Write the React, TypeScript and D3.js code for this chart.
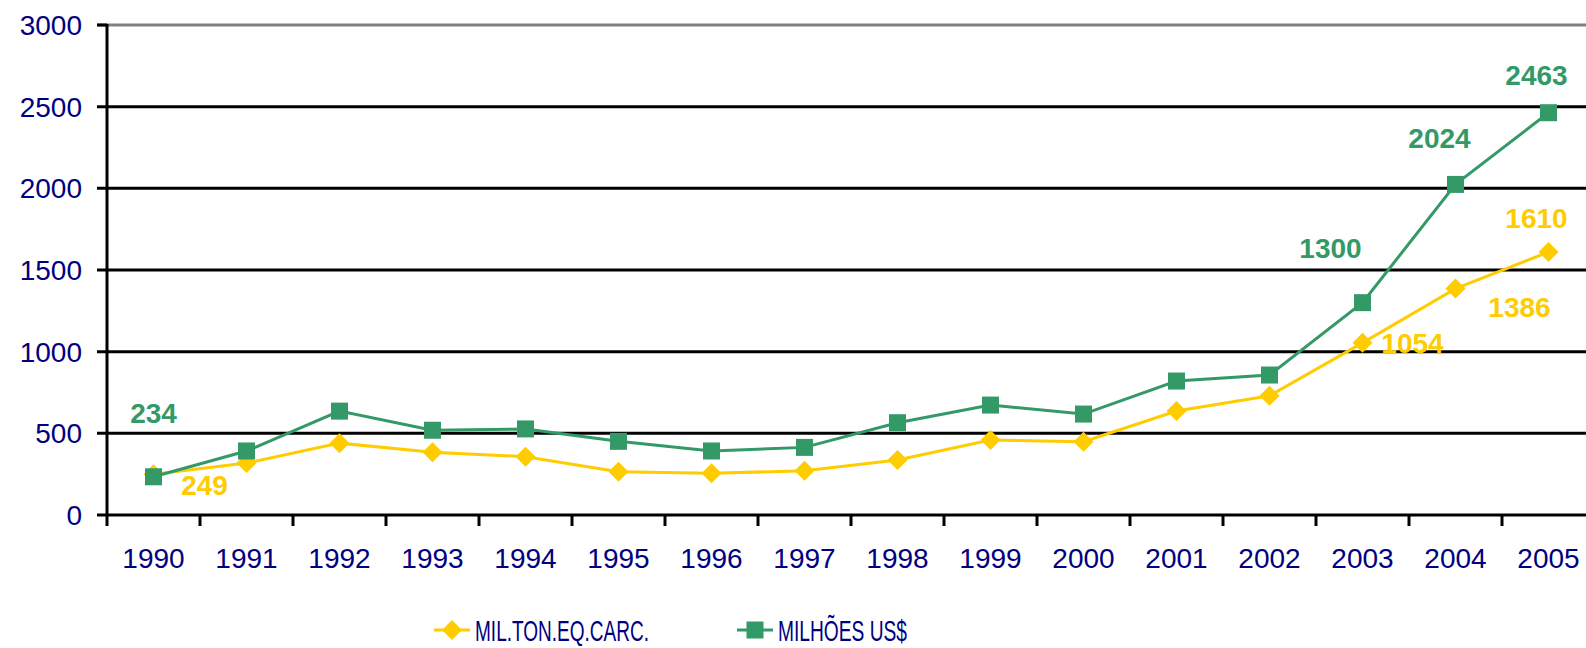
import React, { useEffect, useRef } from 'react';
import * as d3 from 'd3';

const years = ['1990', '1991', '1992', '1993', '1994', '1995', '1996', '1997', '1998', '1999', '2000', '2001', '2002', '2003', '2004', '2005'];
const milTon = [249, 318, 440, 384, 357, 265, 255, 271, 337, 459, 449, 637, 730, 1054, 1386, 1610];
const milhoesUS = [234, 392, 636, 519, 527, 451, 392, 414, 565, 673, 618, 820, 857, 1300, 2024, 2463];
const yTicks = [0, 500, 1000, 1500, 2000, 2500, 3000];

// which points carry a value label, and where the label sits relative to the point
const milTonLabels = [
  { i: 0, dx: 51, dy: 11 },
  { i: 13, dx: 50, dy: 0 },
  { i: 14, dx: 64, dy: 18 },
  { i: 15, dx: -12, dy: -34 },
];
const milhoesLabels = [
  { i: 0, dx: 0, dy: -64 },
  { i: 13, dx: -32, dy: -55 },
  { i: 14, dx: -16, dy: -46 },
  { i: 15, dx: -12, dy: -38 },
];

const YELLOW = '#FFCC00';
const GREEN = '#339966';
const NAVY = '#000080';
const FONT = 'Arial, "Liberation Sans", sans-serif';

const App = () => {
  const svgRef = useRef<SVGSVGElement>(null);

  useEffect(() => {
    const svg = d3.select(svgRef.current);
    svg.selectAll('*').remove();

    const left = 107;
    const right = 1595;
    const bottom = 515;
    const top = 25;

    const x = d3.scaleBand().domain(years).range([left, right]).padding(0);
    const y = d3.scaleLinear().domain([0, 3000]).range([bottom, top]);
    const cx = (i: number) => (x(years[i]) as number) + x.bandwidth() / 2;

    // gridlines
    svg
      .append('g')
      .selectAll('line')
      .data(yTicks)
      .join('line')
      .attr('x1', left - 10)
      .attr('x2', 1586)
      .attr('y1', (d) => y(d))
      .attr('y2', (d) => y(d))
      .attr('stroke', (d) => (d === 3000 ? '#808080' : '#000'))
      .attr('stroke-width', 3);
    // tick stub at the top in black
    svg.append('line').attr('x1', left - 10).attr('x2', left).attr('y1', y(3000)).attr('y2', y(3000)).attr('stroke', '#000').attr('stroke-width', 3);

    // y axis line
    svg.append('line').attr('x1', left).attr('x2', left).attr('y1', y(3000) - 1).attr('y2', bottom + 11).attr('stroke', '#000').attr('stroke-width', 3);

    // x ticks at band boundaries
    svg
      .append('g')
      .selectAll('line')
      .data(years.slice(1))
      .join('line')
      .attr('x1', (d) => x(d) as number)
      .attr('x2', (d) => x(d) as number)
      .attr('y1', bottom)
      .attr('y2', bottom + 11)
      .attr('stroke', '#000')
      .attr('stroke-width', 3);

    // y tick labels
    svg
      .append('g')
      .selectAll('text')
      .data(yTicks)
      .join('text')
      .attr('x', 82)
      .attr('y', (d) => y(d))
      .attr('dy', '0.36em')
      .attr('text-anchor', 'end')
      .attr('font-family', FONT)
      .attr('font-size', 28)
      .attr('fill', NAVY)
      .text((d) => d);

    // x tick labels
    svg
      .append('g')
      .selectAll('text')
      .data(years)
      .join('text')
      .attr('x', (d, i) => cx(i))
      .attr('y', 568)
      .attr('text-anchor', 'middle')
      .attr('font-family', FONT)
      .attr('font-size', 28)
      .attr('fill', NAVY)
      .text((d) => d);

    const line = d3
      .line<number>()
      .x((d, i) => cx(i))
      .y((d) => y(d));

    const diamond = (px: number, py: number, r: number) =>
      `M${px},${py - r}L${px + r},${py}L${px},${py + r}L${px - r},${py}Z`;

    // yellow series
    svg.append('path').datum(milTon).attr('d', line).attr('fill', 'none').attr('stroke', YELLOW).attr('stroke-width', 3);
    svg
      .append('g')
      .selectAll('path')
      .data(milTon)
      .join('path')
      .attr('d', (d, i) => diamond(cx(i), y(d), 10))
      .attr('fill', YELLOW);

    // green series
    svg.append('path').datum(milhoesUS).attr('d', line).attr('fill', 'none').attr('stroke', GREEN).attr('stroke-width', 3);
    svg
      .append('g')
      .selectAll('rect')
      .data(milhoesUS)
      .join('rect')
      .attr('x', (d, i) => cx(i) - 8.5)
      .attr('y', (d) => y(d) - 8.5)
      .attr('width', 17)
      .attr('height', 17)
      .attr('fill', GREEN);

    // value labels
    const addLabels = (vals: number[], labels: { i: number; dx: number; dy: number }[], color: string) => {
      svg
        .append('g')
        .selectAll('text')
        .data(labels)
        .join('text')
        .attr('x', (d) => cx(d.i) + d.dx)
        .attr('y', (d) => y(vals[d.i]) + d.dy)
        .attr('dy', '0.36em')
        .attr('text-anchor', 'middle')
        .attr('font-family', FONT)
        .attr('font-size', 28)
        .attr('font-weight', 'bold')
        .attr('fill', color)
        .text((d) => vals[d.i]);
    };
    addLabels(milTon, milTonLabels, YELLOW);
    addLabels(milhoesUS, milhoesLabels, GREEN);

    // legend
    const legend = [
      { name: 'MIL.TON.EQ.CARC.', color: YELLOW, kind: 'diamond', x0: 434, width: 174 },
      { name: 'MILHÕES US$', color: GREEN, kind: 'square', x0: 737, width: 129 },
    ];
    const ly = 630;
    legend.forEach((l) => {
      const g = svg.append('g');
      g.append('line').attr('x1', l.x0).attr('x2', l.x0 + 36).attr('y1', ly).attr('y2', ly).attr('stroke', l.color).attr('stroke-width', 3);
      if (l.kind === 'diamond') {
        g.append('path').attr('d', diamond(l.x0 + 18, ly, 10)).attr('fill', l.color);
      } else {
        g.append('rect').attr('x', l.x0 + 18 - 8.5).attr('y', ly - 8.5).attr('width', 17).attr('height', 17).attr('fill', l.color);
      }
      g.append('text')
        .attr('x', l.x0 + 41)
        .attr('y', ly)
        .attr('dy', '0.36em')
        .attr('font-family', FONT)
        .attr('font-size', 30)
        .attr('fill', NAVY)
        .attr('textLength', l.width)
        .attr('lengthAdjust', 'spacingAndGlyphs')
        .text(l.name);
    });
  }, []);

  return (
    <svg
      ref={svgRef}
      width={1586}
      height={648}
      style={{ position: 'absolute', left: 0, top: 0, background: '#fff' }}
    />
  );
};

export default App;
